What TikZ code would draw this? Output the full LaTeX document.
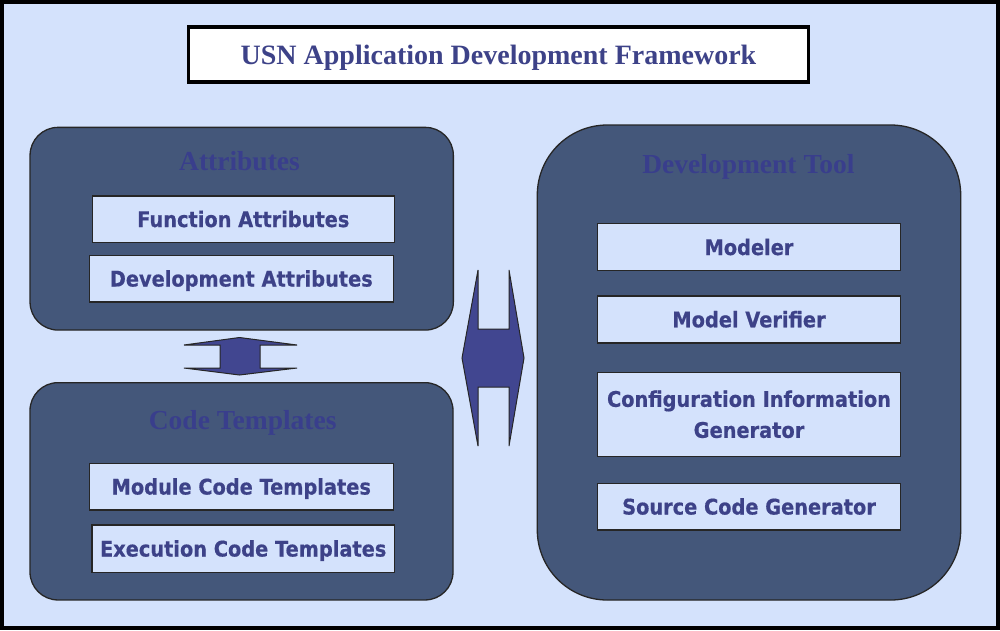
\documentclass[tikz,border=0pt]{standalone}
\usepackage{fontspec}
\setmainfont{Liberation Serif}
\newfontfamily\boxfont[FakeStretch=0.9,FakeBold=0.6]{DejaVu Sans}
\definecolor{bgblue}{HTML}{D4E2FC}
\definecolor{contfill}{HTML}{44577A}
\definecolor{itemtxt}{HTML}{3D4288}
\definecolor{conttitle}{HTML}{393E8C}
\definecolor{arrfill}{HTML}{414690}
\begin{document}
\begin{tikzpicture}[x=1pt,y=-1pt,
  container/.style={draw=black!85, line width=1.3pt, fill=contfill, inner sep=0pt, rectangle},
  item/.style={draw=black!85, line width=1.3pt, fill=bgblue, inner sep=0pt, rectangle,
    font=\boxfont\bfseries\fontsize{21.5}{31}\selectfont, text=itemtxt, align=center},
  oneline/.style={text height=15.6pt, text depth=0pt},
  ctitle/.style={font=\bfseries\fontsize{27.5}{30}\selectfont, text=conttitle, anchor=base, inner sep=0pt},
  dblarrow/.style={draw=black!85, line width=1pt, fill=arrfill, line join=miter}]
\useasboundingbox (0,0) rectangle (1000,630);
\fill[bgblue] (0,0) rectangle (1000,630);
\draw[line width=4.5pt] (2,2) rectangle (998,628);

% title
\node[draw=black, line width=3.5pt, fill=white, minimum width=620pt, minimum height=55pt, inner sep=0pt,
  text height=19pt, text depth=0pt,
  font=\bfseries\fontsize{28}{30}\selectfont, text=itemtxt] (title) at (498.5,54.5) {USN Application Development Framework};

% containers
\node[container, rounded corners=28pt, minimum width=423.3pt, minimum height=202.7pt] (attr) at (241.7,228.7) {};
\node[container, rounded corners=28pt, minimum width=423pt, minimum height=217.3pt] (code) at (241.5,491.3) {};
\node[container, rounded corners=70pt, minimum width=423.4pt, minimum height=475pt] (dev) at (749,362.5) {};

\node[ctitle] (attrT) at (239.5,170) {Attributes};
\node[ctitle] (codeT) at (242.7,429) {Code Templates};
\node[ctitle] (devT) at (748.4,173.3) {Development Tool};

% items
\node[item, oneline, minimum width=302pt, minimum height=46.3pt] (fa) at (243.3,219.2) {Function Attributes};
\node[item, oneline, minimum width=304pt, minimum height=46.7pt] (da) at (241.3,278.7) {Development Attributes};
\node[item, oneline, minimum width=304pt, minimum height=46.7pt] (mct) at (241.3,486.7) {Module Code Templates};
\node[item, oneline, minimum width=302.3pt, minimum height=47.3pt] (ect) at (243.2,548.7) {Execution Code Templates};
\node[item, oneline, minimum width=303.4pt, minimum height=47pt] (mod) at (749,247.2) {Modeler};
\node[item, oneline, minimum width=303.4pt, minimum height=47pt] (mv) at (749,319.5) {Model Verifier};
\node[item, minimum width=303.4pt, minimum height=84pt] (cig) at (749,414.3) {Configuration Information\\Generator};
\node[item, oneline, minimum width=303.4pt, minimum height=46.7pt] (scg) at (749,506.7) {Source Code Generator};

% double arrows
\draw[dblarrow] (184,345) -- (239.5,337.5) -- (297,345) -- (260,345) -- (260,368) -- (297,368)
  -- (239.5,375) -- (184,368) -- (220,368) -- (220,345) -- cycle;
\draw[dblarrow] (478,270) -- (478,329) -- (509,329) -- (509,270) -- (524,358) -- (509,446)
  -- (509,387) -- (478,387) -- (478,446) -- (462,358) -- cycle;
\end{tikzpicture}
\end{document}
